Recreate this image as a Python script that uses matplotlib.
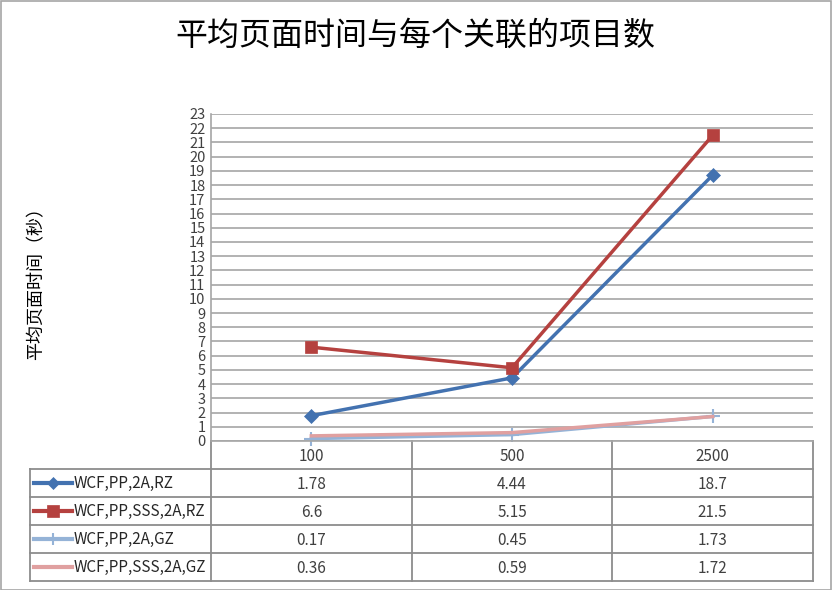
import matplotlib
matplotlib.use("Agg")
import matplotlib.pyplot as plt
from matplotlib.patches import Rectangle
from matplotlib.lines import Line2D

plt.rcParams['font.family'] = ['Noto Sans CJK SC', 'DejaVu Sans']

title = "平均页面时间与每个关联的项目数"
ylabel = "平均页面时间（秒）"
categories = ["100", "500", "2500"]
series_names = ["WCF,PP,2A,RZ", "WCF,PP,SSS,2A,RZ", "WCF,PP,2A,GZ", "WCF,PP,SSS,2A,GZ"]
s1 = [1.78, 4.44, 18.7]
s2 = [6.6, 5.15, 21.5]
s3 = [0.17, 0.45, 1.73]
s4 = [0.36, 0.59, 1.72]
cell_text = [["1.78", "4.44", "18.7"],
             ["6.6", "5.15", "21.5"],
             ["0.17", "0.45", "1.73"],
             ["0.36", "0.59", "1.72"]]
yticks = list(range(0, 24))

colors = ["#4372B0", "#B5413F", "#95B3D7", "#E0A0A0"]
markers = ["D", "s", "+", None]
msizes = [7, 9, 10, 0]
lws = [2.5, 2.5, 2.5, 2.5]

W, H = 832, 590
fig = plt.figure(figsize=(W / 100, H / 100), dpi=100)
fig.patches.append(Rectangle((0.5 / W, 0.5 / H), 1 - 1.5 / W, 1 - 1.5 / H,
                             transform=fig.transFigure, fill=False,
                             edgecolor="#A6A6A6", linewidth=1.2))

px_l, px_r, px_top, px_bot = 211, 813, 114, 441
ax = fig.add_axes([px_l / W, 1 - px_bot / H, (px_r - px_l) / W, (px_bot - px_top) / H])
x = [i + 0.5 for i in range(len(categories))]
data = [s1, s2, s3, s4]
for vals, c, m, ms, lw, name in zip(data, colors, markers, msizes, lws, series_names):
    ax.plot(x, vals, color=c, lw=lw, marker=m, markersize=ms,
            markeredgewidth=1.5 if m == "+" else 0.5, markeredgecolor=c,
            markerfacecolor=c, label=name, zorder=3, clip_on=False)
ax.set_xlim(0, 3)
ax.set_ylim(0, 23)
ax.set_yticks(yticks)
ax.set_yticklabels([str(t) for t in yticks], fontsize=10.5, color="#404040")
ax.tick_params(axis="y", length=0, pad=4)
ax.tick_params(axis="x", length=0, labelbottom=False)
ax.grid(axis="y", color="#A6A6A6", lw=1.2)
ax.set_axisbelow(True)
for sp in ["top", "right", "bottom"]:
    ax.spines[sp].set_visible(False)
ax.spines["left"].set_color("#A6A6A6")
ax.spines["left"].set_linewidth(1.2)

fig.text(415 / W, 1 - 36 / H, title, fontsize=23, ha="center", va="center",
         color="#000000", fontweight="light")
fig.text(36 / W, 1 - 279 / H, ylabel, fontsize=13, rotation=90,
         ha="center", va="center", color="#000000", fontweight="light")

# data table
tl, tr, ttop, tbot = 30, 813, 441, 581
tax = fig.add_axes([tl / W, 1 - tbot / H, (tr - tl) / W, (tbot - ttop) / H])
unit = (px_r - px_l) / 3.0
xleft = -(px_l - tl) / unit
tax.set_xlim(xleft, 3)
tax.set_ylim(5, 0)
tax.axis("off")
gc = "#8C8C8C"
glw = 1.3
for xv in [0, 1, 2, 3]:
    tax.plot([xv, xv], [0, 5], color=gc, lw=glw, clip_on=False)
tax.plot([xleft, xleft], [1, 5], color=gc, lw=glw, clip_on=False)
for yv in [1, 2, 3, 4, 5]:
    tax.plot([xleft, 3], [yv, yv], color=gc, lw=glw, clip_on=False)
tax.plot([0, 3], [0, 0], color="#A6A6A6", lw=1.2, clip_on=False)
for i, cat in enumerate(categories):
    tax.text(i + 0.5, 0.55, cat, ha="center", va="center", fontsize=11, color="#404040")
for r, row in enumerate(cell_text):
    for i, t in enumerate(row):
        tax.text(i + 0.5, r + 1.55, t, ha="center", va="center", fontsize=11, color="#404040")
    yk = r + 1.5
    kx0 = xleft + 4 / unit
    kx1 = kx0 + 38 / unit
    tax.add_line(Line2D([kx0, kx1], [yk, yk], color=colors[r], lw=3, clip_on=False))
    if markers[r]:
        tax.add_line(Line2D([(kx0 + kx1) / 2], [yk], color=colors[r], marker=markers[r],
                            markersize=msizes[r] * 0.9, markeredgecolor=colors[r],
                            markeredgewidth=1.5 if markers[r] == "+" else 0.5,
                            lw=0, clip_on=False))
    tax.text(kx1 + 2 / unit, r + 1.52, series_names[r], ha="left", va="center",
             fontsize=11, color="#262626")

fig.savefig("out.png", dpi=100)
